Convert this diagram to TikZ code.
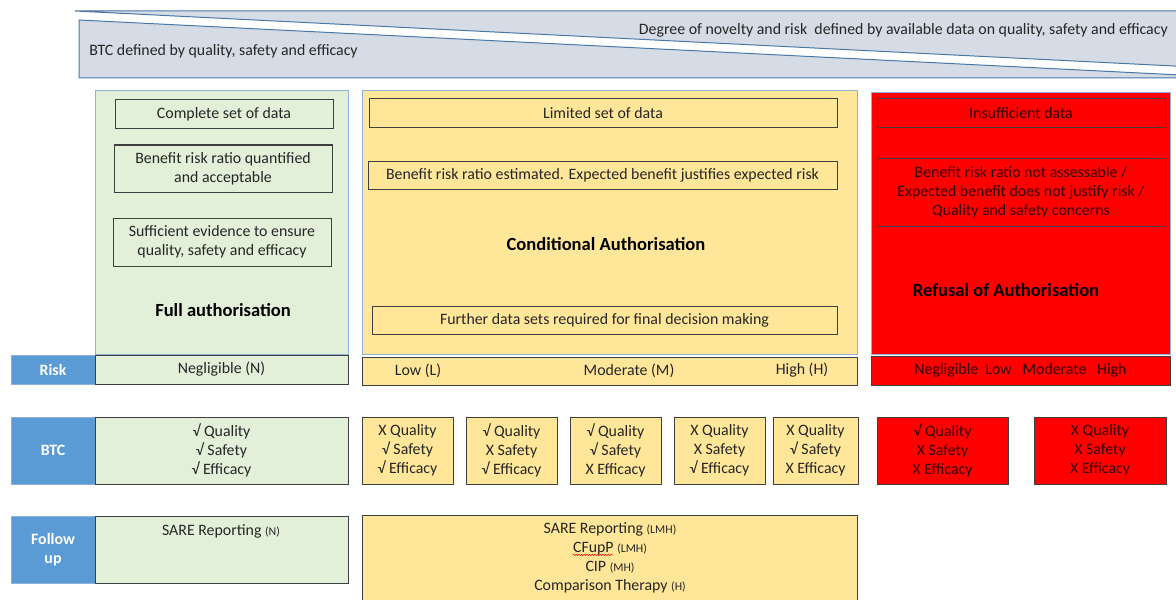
\documentclass[tikz,border=0pt]{standalone}
\usepackage{fontspec}
\setmainfont{Carlito}
\usetikzlibrary{decorations.pathmorphing}

\definecolor{bandfill}{HTML}{D6DCE5}
\definecolor{bandline}{HTML}{4A76A8}
\definecolor{greenfill}{HTML}{E2F0D9}
\definecolor{yellowfill}{HTML}{FFE699}
\definecolor{redfill}{HTML}{FF0000}
\definecolor{labelblue}{HTML}{5B9BD5}
\definecolor{labeledge}{HTML}{8DB1DA}
\definecolor{panelline}{HTML}{8FB0D8}
\definecolor{boxline}{HTML}{3F3F3F}
\definecolor{txt}{HTML}{262626}
\definecolor{redtxt}{HTML}{300000}

% fixed baselines so that lines with tall glyphs keep even spacing
\newcommand{\normaltext}{\fontsize{11.9}{14.25}\selectfont\lineskiplimit=-20pt\relax}
\newcommand{\smalltext}{\fontsize{8.9}{10}\selectfont}

\tikzset{
  sz/.style 2 args={minimum width=#1*0.75pt, minimum height=#2*0.75pt},
  panel/.style={draw=panelline, line width=0.75pt, inner sep=0pt},
  box/.style={draw=boxline, line width=0.75pt, inner sep=0pt, align=center,
              text=txt, font=\normaltext},
  redbox/.style={box, fill=redfill, text=redtxt},
  label/.style={draw=labeledge, line width=0.75pt, fill=labelblue, inner sep=0pt,
                align=center, text=white, font=\normaltext\bfseries},
  plain/.style={inner sep=0pt, align=center, text=txt, font=\normaltext},
  title/.style={inner sep=0pt, text=black, font=\fontsize{13.9}{16}\selectfont\bfseries},
}

\begin{document}
\begin{tikzpicture}[x=0.75pt, y=-0.75pt]
\useasboundingbox (0,0) rectangle (1176,599);
\clip (0,0) rectangle (1176,599);

% header band: two slanted shapes
\path[draw=bandline, fill=bandfill, line width=0.75pt]
  (75,11) -- (1180,11) -- (1180,66.3) -- cycle;
\path[draw=bandline, fill=bandfill, line width=0.75pt]
  (79,20) -- (1180,75) -- (1180,78) -- (79,78) -- cycle;
\node[plain, anchor=east] (novelty) at (1168,30)
  {Degree of novelty and risk\ \ defined by available data on quality, safety and efficacy};
\node[plain, anchor=west] (btcdef) at (89,51) {BTC defined by quality, safety and efficacy};

% full authorisation panel
\node[panel, fill=greenfill, sz={253}{263}] (gpanel) at (221.5,222.5) {};
\node[box, fill=greenfill, sz={218}{29}] (g1) at (224,114.5) {Complete set of data};
\node[box, fill=greenfill, sz={218}{47}] (g2) at (223,168.5) {Benefit risk ratio quantified\\and acceptable};
\node[box, fill=greenfill, sz={218}{48}] (g3) at (222,242) {Sufficient evidence to ensure\\quality, safety and efficacy};
\node[title] (gtitle) at (223,310) {Full authorisation};

% conditional authorisation panel
\node[panel, fill=yellowfill, sz={495}{263}] (ypanel) at (609.5,222.5) {};
\node[box, fill=yellowfill, sz={468}{29}] (y1) at (603,113.5) {Limited set of data};
\node[box, fill=yellowfill, sz={469}{28}] (y2) at (602.5,175) {Benefit risk ratio estimated. Expected benefit justifies expected risk};
\node[title] (ytitle) at (606,244) {Conditional Authorisation};
\node[box, fill=yellowfill, sz={465}{28}] (y3) at (604.5,320) {Further data sets required for final decision making};

% refusal panel
\node[panel, fill=redfill, sz={299}{261}] (rpanel) at (1020.5,223.5) {};
\node[redbox, sz={288}{29}] (r1) at (1021,113.5) {Insufficient data};
\node[redbox, sz={288}{68}] (r2) at (1021,192) {Benefit risk ratio not assessable /\\Expected benefit does not justify risk /\\Quality and safety concerns};
\node[title] (rtitle) at (1006,290) {Refusal of Authorisation};

% risk row
\node[label, sz={84}{29}] (risk) at (53,369.5) {Risk};
\node[box, fill=greenfill, sz={253}{29}] (riskg) at (221.5,369.5) {Negligible (N)};
\node[box, fill=yellowfill, sz={495}{28}] (risky) at (609.5,371) {};
\node[plain] (riskl) at (418,370.5) {Low (L)};
\node[plain] (riskm) at (629,370.5) {Moderate (M)};
\node[plain] (riskh) at (802,370.5) {High (H)};
\node[redbox, sz={299}{29}] (riskr) at (1020.5,370.5) {Negligible\ \ Low\ \ \ Moderate\ \ \ High};

% BTC row
\node[label, sz={84}{67}] (btc) at (53,450.5) {BTC};
\node[box, fill=greenfill, sz={253}{67}] (btcg) at (221.5,450.5) {√ Quality\\√ Safety\\√ Efficacy};
\node[box, fill=yellowfill, sz={91}{67}] (btcy1) at (407.5,450.5) {X Quality\\√ Safety\\√ Efficacy};
\node[box, fill=yellowfill, sz={91}{67}] (btcy2) at (511.5,450.5) {√ Quality\\X Safety\\√ Efficacy};
\node[box, fill=yellowfill, sz={91}{67}] (btcy3) at (615.5,450.5) {√ Quality\\√ Safety\\X Efficacy};
\node[box, fill=yellowfill, sz={91}{67}] (btcy4) at (719.5,450.5) {X Quality\\X Safety\\√ Efficacy};
\node[box, fill=yellowfill, sz={85}{67}] (btcy5) at (815.5,450.5) {X Quality\\√ Safety\\X Efficacy};
\node[redbox, sz={131}{67}] (btcr1) at (942.5,450.5) {√ Quality\\X Safety\\X Efficacy};
\node[redbox, sz={132}{67}] (btcr2) at (1100,450.5) {X Quality\\X Safety\\X Efficacy};

% follow-up row
\node[label, sz={84}{67}] (follow) at (53,549.5) {Follow\\up};
\node[box, fill=greenfill, sz={253}{67}] (fug) at (221.5,549.5) {};
\node[plain] (fug1) at (221,531) {SARE Reporting {\smalltext (N)}};
\node[box, fill=yellowfill, sz={495}{92}] (fuy) at (609.5,561) {};
\node[plain, anchor=base] (fuy1) at (610,533) {SARE Reporting {\smalltext (LMH)}};
\node[plain, anchor=base] (fuy2) at (610,552) {CFupP {\smalltext (LMH)}};
\node[plain, anchor=base] (fuy3) at (610,571) {CIP {\smalltext (MH)}};
\node[plain, anchor=base] (fuy4) at (610,590) {Comparison Therapy {\smalltext (H)}};
\draw[red, line width=0.4pt, decorate,
      decoration={snake, amplitude=0.5pt, segment length=2pt}]
  ([yshift=-2.2pt]fuy2.base west) -- ++(30pt,0);

\end{tikzpicture}
\end{document}
